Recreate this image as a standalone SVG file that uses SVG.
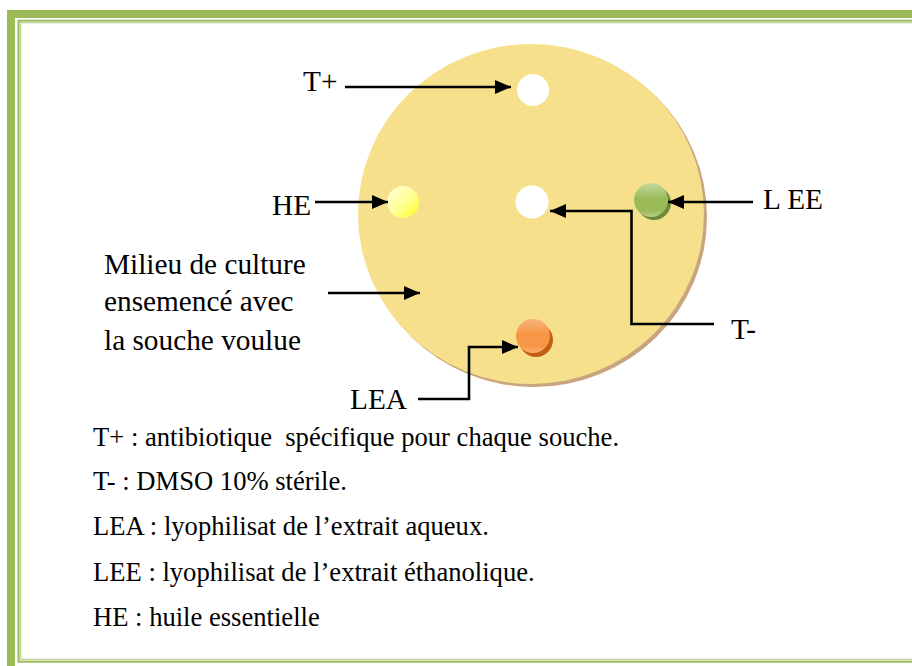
<svg xmlns="http://www.w3.org/2000/svg" width="912" height="666" viewBox="0 0 912 666">
<style>
.lbl{font-family:"Liberation Serif","Times New Roman",serif;font-size:29.3px;fill:#000}
.leg{font-family:"Liberation Serif","Times New Roman",serif;font-size:26.6px;fill:#000}
.con{fill:none;stroke:#000;stroke-width:2.6;marker-end:url(#ah)}
</style>
<defs>
<marker id="ah" markerUnits="userSpaceOnUse" markerWidth="18" markerHeight="16" refX="16" refY="8" orient="auto">
<path d="M0,1 L16,8 L0,15 Z" fill="#000"/>
</marker>
<linearGradient id="gYel" x1="0" y1="0" x2="1" y2="1">
<stop offset="0" stop-color="#FFFFE0"/>
<stop offset="0.5" stop-color="#FFFF99"/>
<stop offset="1" stop-color="#FFFF22"/>
</linearGradient>
<linearGradient id="gGrn" x1="0" y1="0" x2="0" y2="1">
<stop offset="0" stop-color="#C6D9A0"/>
<stop offset="0.45" stop-color="#9BBB59"/>
<stop offset="0.8" stop-color="#9BBB59"/>
<stop offset="1" stop-color="#B5CC85"/>
</linearGradient>
<linearGradient id="gOrg" x1="0" y1="0" x2="0" y2="1">
<stop offset="0" stop-color="#F9B37A"/>
<stop offset="0.45" stop-color="#F79646"/>
<stop offset="0.8" stop-color="#F79646"/>
<stop offset="1" stop-color="#F9AE70"/>
</linearGradient>
</defs>
<rect width="912" height="666" fill="#fff"/>
<g id="frame">
<rect x="11" y="14" width="920" height="680" fill="none" stroke="#9BBB59" stroke-width="8"/>
<rect x="18.5" y="20.7" width="920" height="641" fill="none" stroke="#9BBB59" stroke-width="2"/>
<rect x="20.5" y="22.5" width="920" height="637" fill="none" stroke="#C3D69B" stroke-width="1.6"/>
</g>
<g id="plate">
<ellipse cx="534" cy="217" rx="173" ry="170" fill="#C9A47E"/>
<ellipse cx="531" cy="214" rx="173" ry="170" fill="#F6E08B"/>
</g>
<g id="spot-tplus"><circle cx="533" cy="90" r="16" fill="#fff"/></g>
<g id="spot-tminus"><circle cx="532" cy="202" r="16.5" fill="#fff"/></g>
<g id="spot-he"><circle cx="403" cy="202" r="16" fill="url(#gYel)"/></g>
<g id="spot-lee">
<circle cx="654" cy="203" r="17" fill="#6E8A36"/>
<circle cx="651" cy="200" r="17" fill="url(#gGrn)"/>
</g>
<g id="spot-lea">
<circle cx="536" cy="340" r="17" fill="#C05F12"/>
<circle cx="533" cy="336" r="17" fill="url(#gOrg)"/>
</g>
<g id="connectors">
<path class="con" d="M345,87 H511"/>
<path class="con" d="M315,202 H388"/>
<path class="con" d="M753,202 H668"/>
<path class="con" d="M714,324 H631.5 V211 H550"/>
<path class="con" d="M328,293 H420"/>
<path class="con" d="M418,399 H469 V347 H518"/>
</g>
<g id="labels">
<text class="lbl" x="303" y="91">T+</text>
<text class="lbl" x="272" y="215">HE</text>
<text class="lbl" x="763" y="209">L EE</text>
<text class="lbl" x="731" y="339">T-</text>
<text class="lbl" x="350" y="409">LEA</text>
<text class="lbl" x="104" y="274">Milieu de culture</text>
<text class="lbl" x="104" y="311">ensemencé avec</text>
<text class="lbl" x="104" y="350">la souche voulue</text>
</g>
<g id="legend">
<text class="leg" x="93" y="446" xml:space="preserve">T+ : antibiotique  spécifique pour chaque souche.</text>
<text class="leg" x="93" y="490">T- : DMSO 10% stérile.</text>
<text class="leg" x="93" y="535">LEA : lyophilisat de l’extrait aqueux.</text>
<text class="leg" x="93" y="581">LEE : lyophilisat de l’extrait éthanolique.</text>
<text class="leg" x="93" y="626">HE : huile essentielle</text>
</g>
</svg>
